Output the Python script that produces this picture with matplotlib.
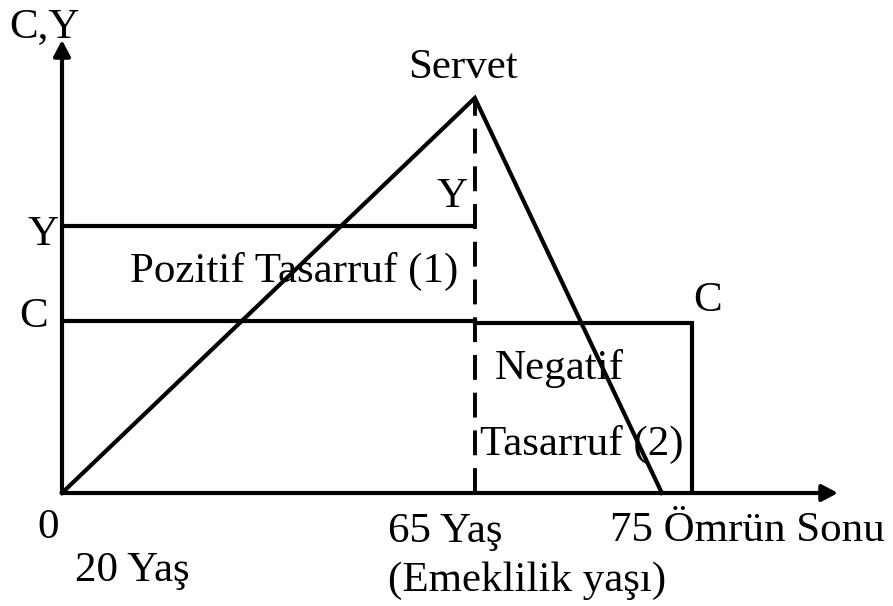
import matplotlib
matplotlib.use("Agg")
import matplotlib.pyplot as plt

# Schematic units: x runs 0..100 along the age axis, y 0..100 up the C,Y axis
retire_x = 53.2       # 65 Yaş (Emeklilik yaşı)
death_x = 81.2        # Ömrün sonu (C ends)
income_y = 59.0       # Y level while working
consumption_y = 38.0  # C level while working
consumption_old_y = 37.5
wealth_x = [0, 53.2, 77.3]
wealth_y = [0, 87.2, 0]
peak_y = 87.2

plt.rcParams['font.family'] = ['Liberation Serif', 'DejaVu Serif']
fs = 31
lw = 3.0

fig = plt.figure(figsize=(8.93, 6.06), dpi=100)
ax = fig.add_axes([62 / 893, 113 / 606, 776 / 893, 453 / 606])
ax.set_xlim(0, 100)
ax.set_ylim(0, 100)
ax.axis('off')

# axes with arrow heads
arrow = dict(arrowstyle='-|>,head_length=0.95,head_width=0.5', color='black', lw=lw,
             shrinkA=0, shrinkB=0)
ax.annotate('', xy=(100, 0), xytext=(0, 0), arrowprops=arrow, annotation_clip=False)
ax.annotate('', xy=(0, 100), xytext=(0, 0), arrowprops=arrow, annotation_clip=False)

# income and consumption lines
ax.plot([0, retire_x], [income_y, income_y], color='black', lw=lw, solid_capstyle='butt')
ax.plot([0, retire_x, retire_x, death_x, death_x],
        [consumption_y, consumption_y, consumption_old_y, consumption_old_y, 0],
        color='black', lw=lw, solid_joinstyle='miter')

# wealth triangle
ax.plot(wealth_x, wealth_y, color='black', lw=lw, solid_joinstyle='miter', clip_on=False)

# retirement dashed line
ax.plot([retire_x, retire_x], [0, peak_y], color='black', lw=2.8,
        dashes=(6.4, 3.3), clip_on=False)

txt = dict(fontsize=fs, color='black', clip_on=False)
dy = -1.6
ax.text(-2.3, 104.5 + dy, 'C,Y', ha='center', va='center', **txt)
ax.text(51.7, 95.5 + dy, 'Servet', ha='center', va='center', **txt)
ax.text(50.3, 67.0 + dy, 'Y', ha='center', va='center', **txt)
ax.text(-2.4, 58.5 + dy, 'Y', ha='center', va='center', **txt)
ax.text(-3.7, 40.5 + dy, 'C', ha='center', va='center', **txt)
ax.text(8.8, 50.5 + dy, 'Pozitif Tasarruf (1)', ha='left', va='center', **txt)
ax.text(83.2, 44.0 + dy, 'C', ha='center', va='center', **txt)
ax.text(55.8, 29.0 + dy, 'Negatif', ha='left', va='center', **txt)
ax.text(53.9, 12.3 + dy, 'Tasarruf (2)', ha='left', va='center', **txt)
ax.text(-1.8, -6.0 + dy, '0', ha='center', va='center', **txt)
ax.text(1.7, -15.5 + dy, '20 Yaş', ha='left', va='center', **txt)
ax.text(42.0, -7.0 + dy, '65 Yaş', ha='left', va='center', **txt)
ax.text(42.0, -17.7 + dy, '(Emeklilik yaşı)', ha='left', va='center', **txt)
ax.text(106.0, -6.7 + dy, '75 Ömrün Sonu', ha='right', va='center', **txt)

fig.savefig('out.png', dpi=100)
